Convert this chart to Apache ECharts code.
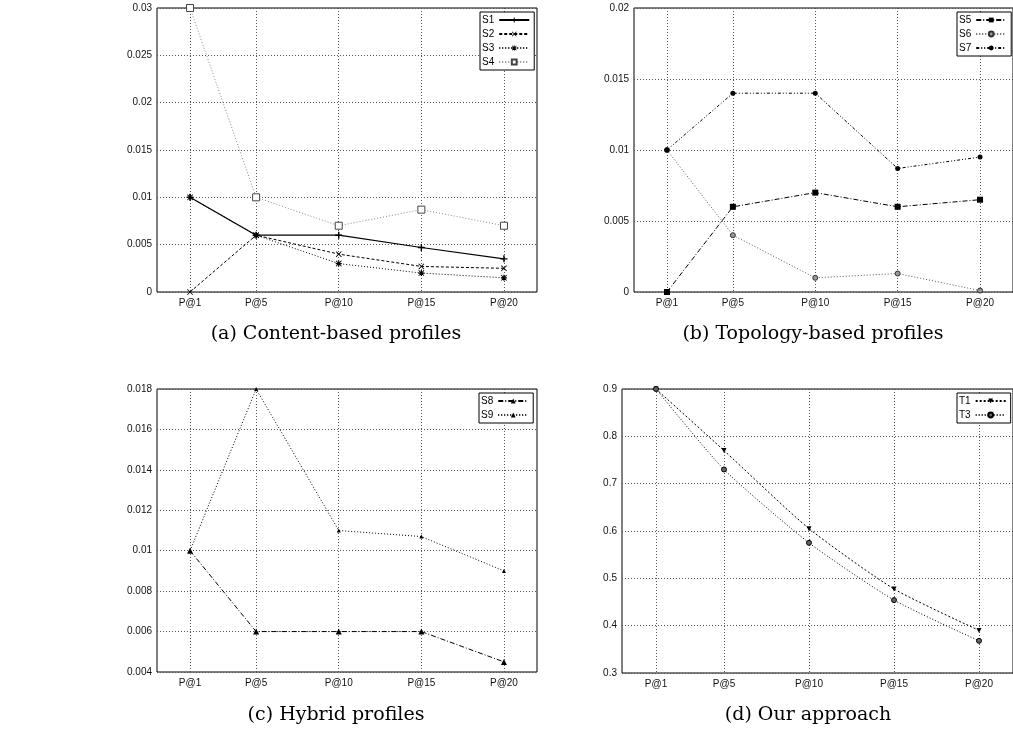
<!DOCTYPE html>
<html>
<head>
<meta charset="utf-8">
<style>
html, body { margin: 0; padding: 0; background: #fff; }
#main { width: 1013px; height: 729px; }
</style>
<script src="https://cdn.jsdelivr.net/npm/echarts@6/dist/echarts.min.js"></script>
</head>
<body>
<div id="main"></div>
<script>
// x positions (cut-off k of P@k) and tick labels
var xPos = [1, 5, 10, 15, 20];
var xLabels = ['P@1', 'P@5', 'P@10', 'P@15', 'P@20'];

// (a) content-based profiles
var s1 = [0.01, 0.006, 0.006, 0.0047, 0.0035];
var s2 = [0, 0.006, 0.004, 0.0027, 0.0025];
var s3 = [0.01, 0.006, 0.003, 0.002, 0.0015];
var s4 = [0.03, 0.01, 0.007, 0.0087, 0.007];
// (b) topology-based profiles
var s5 = [0, 0.006, 0.007, 0.006, 0.0065];
var s6 = [0.01, 0.004, 0.001, 0.0013, 0.0001];
var s7 = [0.01, 0.014, 0.014, 0.0087, 0.0095];
// (c) hybrid profiles
var s8 = [0.01, 0.006, 0.006, 0.006, 0.0045];
var s9 = [0.01, 0.018, 0.011, 0.0107, 0.009];
// (d) our approach
var t1 = [0.9, 0.77, 0.605, 0.4775, 0.39];
var t3 = [0.9, 0.73, 0.575, 0.454, 0.368];

var captions = ['(a) Content-based profiles', '(b) Topology-based profiles', '(c) Hybrid profiles', '(d) Our approach'];

var chart = echarts.init(document.getElementById('main'));

function pts(vals) {
    return xPos.map(function (x, i) { return [x, vals[i]]; });
}

var tickFont = 'Liberation Sans';
var grids = [
    {left: 157, top: 8, width: 380, height: 284},
    {left: 634, top: 8, width: 382, height: 284},
    {left: 157, top: 389, width: 380, height: 283},
    {left: 622, top: 389, width: 394, height: 284}
];
var yRanges = [
    {min: 0, max: 0.03, interval: 0.005},
    {min: 0, max: 0.02, interval: 0.005},
    {min: 0.004, max: 0.018, interval: 0.002},
    {min: 0.3, max: 0.9, interval: 0.1}
];

var gridLine = {show: true, lineStyle: {color: '#555', width: 1, type: [1, 2]}};

var xAxes = [], yAxes = [];
grids.forEach(function (g, k) {
    g.show = true;
    g.borderColor = '#000';
    g.borderWidth = 1;
    xAxes.push({
        type: 'value', gridIndex: k, position: 'bottom', min: -1, max: 22,
        axisLine: {show: false},
        axisTick: {show: false, customValues: xPos},
        axisLabel: {customValues: xPos, margin: 6, fontSize: 10, fontFamily: tickFont, color: '#111',
            formatter: function (v) { return xLabels[xPos.indexOf(v)]; }},
        splitLine: gridLine
    });
    var r = yRanges[k];
    yAxes.push({
        type: 'value', gridIndex: k, position: 'left', min: r.min, max: r.max, interval: r.interval,
        axisLine: {show: false},
        axisTick: {show: false},
        axisLabel: {margin: 5, fontSize: 10, fontFamily: tickFont, color: '#111'},
        splitLine: gridLine
    });
});

var plusSym = 'path://M4,0H6V4H10V6H6V10H4V6H0V4H4Z';
var crossSym = 'path://M1,0L5,4L9,0L10,1L6,5L10,9L9,10L5,6L1,10L0,9L4,5L0,1Z';
var starSym = 'path://M4,0H6V4H10V6H6V10H4V6H0V4H4Z M1,0L5,4L9,0L10,1L6,5L10,9L9,10L5,6L1,10L0,9L4,5L0,1Z';

function line(name, vals, k, opt) {
    return {
        name: name, type: 'line', xAxisIndex: k, yAxisIndex: k,
        data: pts(vals), smooth: opt.smooth || false,
        symbol: opt.symbol, symbolSize: opt.size, symbolRotate: opt.rotate || 0,
        showAllSymbol: true, animation: false,
        lineStyle: {color: opt.color || '#000', width: opt.width || 1, type: opt.dash},
        itemStyle: {color: opt.fill || opt.color || '#000', borderColor: opt.border || opt.color || '#000',
            borderWidth: opt.borderWidth || 0}
    };
}

var series = [
    line('S1', s1, 0, {dash: 'solid', symbol: plusSym, size: 7, width: 1.2}),
    line('S2', s2, 0, {dash: [3, 2], symbol: crossSym, size: 6}),
    line('S3', s3, 0, {dash: [1, 2], symbol: starSym, size: 6}),
    line('S4', s4, 0, {dash: [1, 2], symbol: 'rect', size: 7, color: '#888', fill: '#fff', border: '#444', borderWidth: 1}),
    line('S5', s5, 1, {dash: [5, 2, 1, 2], symbol: 'rect', size: 6}),
    line('S6', s6, 1, {dash: [1, 2], symbol: 'circle', size: 5, color: '#555', fill: '#999', border: '#333', borderWidth: 1}),
    line('S7', s7, 1, {dash: [3, 2, 1, 2, 1, 2], symbol: 'circle', size: 5}),
    line('S8', s8, 2, {dash: [5, 2, 1, 2], symbol: 'triangle', size: 6}),
    line('S9', s9, 2, {dash: [1, 2], symbol: 'triangle', size: 4}),
    line('T1', t1, 3, {dash: [2, 2], symbol: 'triangle', size: 5, rotate: 180, smooth: 0.2}),
    line('T3', t3, 3, {dash: [1, 2], symbol: 'circle', size: 5, fill: '#666', border: '#000', borderWidth: 1, smooth: 0.2})
];

function legend(names, left, top) {
    return {
        data: names, orient: 'vertical', left: left, top: top, align: 'right',
        itemWidth: 30, itemHeight: 6, itemGap: 4, padding: [3, 4, 3, 2],
        borderColor: '#000', borderWidth: 1, backgroundColor: '#fff',
        textStyle: {fontSize: 10, fontFamily: tickFont, color: '#000', padding: [0, 0, 0, 0]},
        selectedMode: false
    };
}

var graphics = captions.map(function (c, k) {
    var pos = [[336, 334], [813, 334], [336, 715], [808, 715]][k];
    return {
        type: 'text', x: pos[0], y: pos[1],
        style: {text: c, font: '19px "DejaVu Serif"', fill: '#000', align: 'center', verticalAlign: 'middle'}
    };
});

chart.setOption({
    backgroundColor: '#fff',
    animation: false,
    grid: grids,
    xAxis: xAxes,
    yAxis: yAxes,
    legend: [
        legend(['S1', 'S2', 'S3', 'S4'], 480, 12),
        legend(['S5', 'S6', 'S7'], 957, 12),
        legend(['S8', 'S9'], 479, 393),
        legend(['T1', 'T3'], 957, 393)
    ],
    series: series,
    graphic: graphics
});
</script>
</body>
</html>
